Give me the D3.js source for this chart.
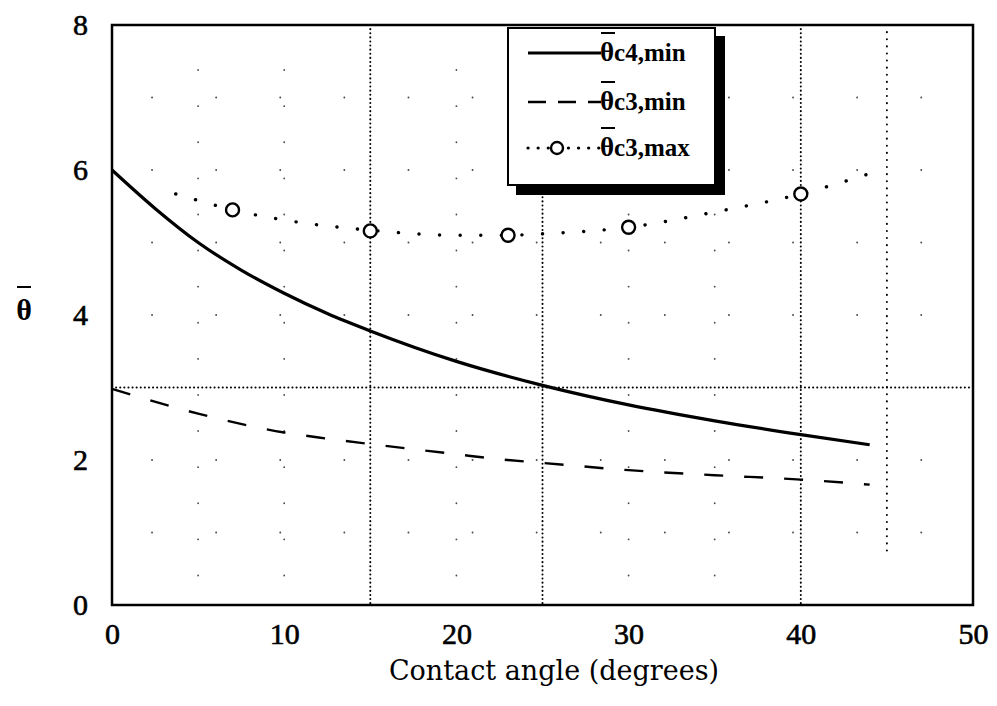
<!DOCTYPE html>
<html><head><meta charset="utf-8">
<script src="https://cdn.jsdelivr.net/npm/d3@7"></script>
<style>body{margin:0;background:#fff}svg{display:block}</style>
</head><body>
<svg id="chart" width="997" height="706"></svg>
<script>
// ---- data ----
const xTicks = [0, 10, 20, 30, 40, 50];
const yTicks = [0, 2, 4, 6, 8];
const xTitle = "Contact angle (degrees)";
const seriesNames = ["c4,min", "c3,min", "c3,max"];
const c4minX = [0, 2.5, 5, 7.5, 10, 12.5, 15, 20, 25, 30, 35, 40, 44];
const c4minY = [6.0, 5.47, 5.0, 4.62, 4.3, 4.02, 3.78, 3.36, 3.03, 2.76, 2.54, 2.35, 2.21];
const c3minX = [0, 5, 10, 12, 15, 20, 22.5, 25, 30, 35, 40, 44];
const c3minY = [2.98, 2.64, 2.38, 2.31, 2.22, 2.08, 2.01, 1.96, 1.86, 1.79, 1.73, 1.66];
const c3maxX = [3.7, 5, 7, 10, 15, 20, 23, 25, 30, 35, 40, 44];
const c3maxY = [5.67, 5.58, 5.45, 5.31, 5.17, 5.1, 5.1, 5.12, 5.21, 5.42, 5.67, 5.95];
const markX = [7, 15, 23, 30, 40];
const markY = [5.45, 5.16, 5.1, 5.21, 5.67];
const vGrid = [15, 25, 40, 45];
const hGrid = [3];
const faintV = [5, 10, 20, 30, 35];
const faintH = [1, 2, 4, 5, 6, 7];

// ---- chart ----
const svg = d3.select("#chart");
const L = 112, R = 973, T = 25, B = 605;
const x = d3.scaleLinear().domain([0, 50]).range([L, R]);
const y = d3.scaleLinear().domain([0, 8]).range([B, T]);
const serif = "'Liberation Serif', 'DejaVu Serif', serif";
const wide = "'DejaVu Serif', serif";

// faint sparse grid (scan remnants)
const g0 = svg.append("g").attr("stroke", "#000").attr("stroke-width", 1.8).attr("stroke-linecap", "round");
g0.selectAll("line.fv").data(faintV).join("line")
  .attr("x1", d => x(d)).attr("x2", d => x(d)).attr("y1", T + 45).attr("y2", B)
  .attr("stroke-dasharray", "0.1,36").attr("opacity", 0.7);
g0.selectAll("line.fh").data(faintH).join("line")
  .attr("x1", L + 40).attr("x2", R).attr("y1", d => y(d)).attr("y2", d => y(d))
  .attr("stroke-dasharray", "0.1,64").attr("opacity", 0.7);

// dotted grid lines
const g1 = svg.append("g").attr("stroke", "#000").attr("stroke-width", 2).attr("stroke-linecap", "round");
g1.selectAll("line.v").data(vGrid).join("line")
  .attr("x1", d => x(d)).attr("x2", d => x(d)).attr("y1", T).attr("y2", d => d === 45 ? y(0.7) : B)
  .attr("stroke-dasharray", d => d === 45 ? "0.1,7" : "0.1,4");
g1.selectAll("line.h").data(hGrid).join("line")
  .attr("x1", L).attr("x2", R).attr("y1", d => y(d)).attr("y2", d => y(d))
  .attr("stroke-dasharray", "0.1,4");

// frame
svg.append("rect").attr("x", L).attr("y", T).attr("width", R - L).attr("height", B - T)
  .attr("fill", "none").attr("stroke", "#000").attr("stroke-width", 2.5);

// axes (labels only)
const xAxis = d3.axisBottom(x).tickValues(xTicks).tickSize(0).tickPadding(18);
const gx = svg.append("g").attr("transform", `translate(0,${B})`).call(xAxis);
gx.select(".domain").remove();
gx.selectAll("text").attr("font-family", serif).attr("font-size", 30).attr("fill", "#000")
  .attr("stroke", "#000").attr("stroke-width", 0.6);

const yAxis = d3.axisLeft(y).tickValues(yTicks).tickSize(0).tickPadding(24);
const gy = svg.append("g").attr("transform", `translate(${L},0)`).call(yAxis);
gy.select(".domain").remove();
gy.selectAll("text").attr("font-family", serif).attr("font-size", 30).attr("fill", "#000")
  .attr("stroke", "#000").attr("stroke-width", 0.6);

// titles
svg.append("text").attr("x", 554).attr("y", 680).attr("text-anchor", "middle")
  .attr("font-family", wide).attr("font-size", 27).text(xTitle);
svg.append("text").attr("x", 24).attr("y", 320).attr("text-anchor", "middle")
  .attr("font-family", serif).attr("font-size", 30).attr("font-weight", "bold").text("θ");
svg.append("line").attr("x1", 17).attr("x2", 31).attr("y1", 287).attr("y2", 287)
  .attr("stroke", "#000").attr("stroke-width", 2);

// series
const line = d3.line().x(d => x(d[0])).y(d => y(d[1])).curve(d3.curveMonotoneX);
const zip = (a, b) => a.map((v, i) => [v, b[i]]);
svg.append("path").datum(zip(c4minX, c4minY)).attr("d", line)
  .attr("fill", "none").attr("stroke", "#000").attr("stroke-width", 3.2);
svg.append("path").datum(zip(c3minX, c3minY)).attr("d", line)
  .attr("fill", "none").attr("stroke", "#000").attr("stroke-width", 2.4).attr("stroke-dasharray", "19,21");
svg.append("path").datum(zip(c3maxX, c3maxY)).attr("d", line)
  .attr("fill", "none").attr("stroke", "#000").attr("stroke-width", 3.4)
  .attr("stroke-linecap", "round").attr("stroke-dasharray", "0.1,20.5");
svg.append("g").selectAll("circle").data(zip(markX, markY)).join("circle")
  .attr("cx", d => x(d[0])).attr("cy", d => y(d[1])).attr("r", 6.5)
  .attr("fill", "#fff").attr("stroke", "#000").attr("stroke-width", 2.4);

// legend
const lg = svg.append("g");
lg.append("rect").attr("x", 516).attr("y", 36).attr("width", 209).attr("height", 159).attr("fill", "#000");
lg.append("rect").attr("x", 508).attr("y", 28).attr("width", 207).attr("height", 157)
  .attr("fill", "#fff").attr("stroke", "#000").attr("stroke-width", 2);
const rowsY = [53, 102, 148];
const styles = [
  {w: 3, dash: null, cap: "butt"},
  {w: 2.4, dash: "18,12", cap: "butt"},
  {w: 3.2, dash: "0.1,10", cap: "round"}
];
rowsY.forEach((ry, i) => {
  lg.append("line").attr("x1", 528).attr("x2", 601).attr("y1", ry).attr("y2", ry)
    .attr("stroke", "#000").attr("stroke-width", styles[i].w)
    .attr("stroke-dasharray", styles[i].dash).attr("stroke-linecap", styles[i].cap);
  if (i === 2) {
    lg.append("circle").attr("cx", 557).attr("cy", ry).attr("r", 6)
      .attr("fill", "#fff").attr("stroke", "#000").attr("stroke-width", 2.4);
  }
  const t = lg.append("text").attr("x", 600).attr("y", ry + 8)
    .attr("font-family", serif).attr("font-size", 27).attr("font-weight", "bold");
  t.append("tspan").text("θ");
  t.append("tspan").attr("font-size", 25).text(seriesNames[i]);
  lg.append("line").attr("x1", 601).attr("x2", 615).attr("y1", ry - 20).attr("y2", ry - 20)
    .attr("stroke", "#000").attr("stroke-width", 2);
});
</script>
</body></html>
